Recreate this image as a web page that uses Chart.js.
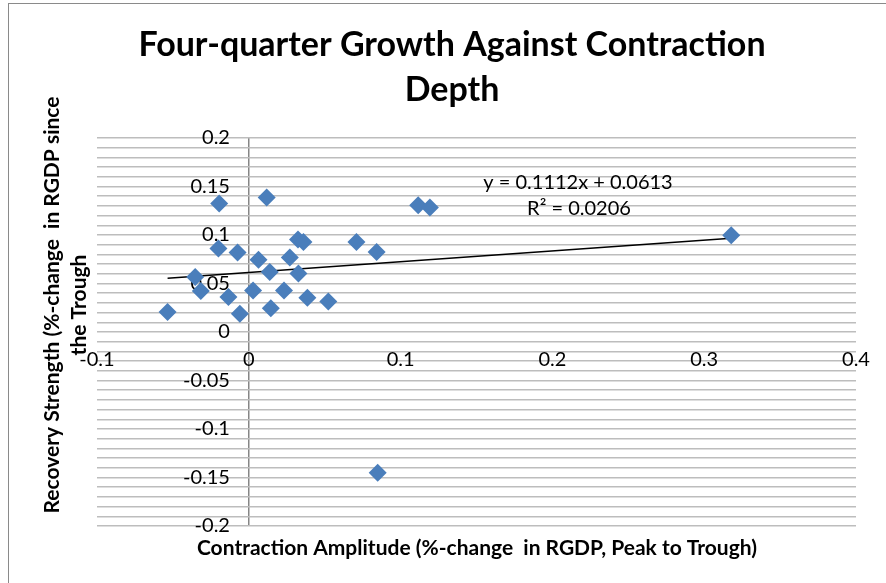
<!DOCTYPE html>
<html>
<head>
<meta charset="utf-8">
<script src="https://cdn.jsdelivr.net/npm/chart.js@4.4.1/dist/chart.umd.min.js"></script>
<style>
  html, body { margin: 0; padding: 0; background: #fff; overflow: hidden; }
  #frame { position: absolute; left: 8px; top: 3px; width: 900px; height: 600px; border: 1px solid #8a8a8a; }
  #chart { position: absolute; left: 0; top: 0; }
</style>
</head>
<body>
<div id="frame"></div>
<canvas id="chart" width="886" height="583"></canvas>
<script>
// data
const contractionAmplitude = [-0.0535, -0.0195, 0.0118, -0.0200, -0.0074, -0.0353, -0.0316, -0.0134, -0.0059, 0.0028, 0.0064, 0.0138, 0.0145, 0.0232, 0.0270, 0.0324, 0.0360, 0.0327, 0.0386, 0.0524, 0.0709, 0.0842, 0.1116, 0.1193, 0.3178, 0.0849];
const recoveryStrength = [0.0205, 0.1325, 0.1387, 0.0860, 0.0819, 0.0566, 0.0422, 0.0360, 0.0188, 0.0429, 0.0746, 0.0618, 0.0246, 0.0429, 0.0767, 0.0953, 0.0928, 0.0602, 0.0353, 0.0315, 0.0928, 0.0825, 0.1307, 0.1284, 0.0997, -0.1452];

// trendline as printed on the chart
const trendSlope = 0.1112;
const trendIntercept = 0.0613;
const trendR2 = 0.0206;

const xTicks = [-0.1, 0, 0.1, 0.2, 0.3, 0.4];
const yTicks = [-0.2, -0.15, -0.1, -0.05, 0, 0.05, 0.1, 0.15, 0.2];

const chartTitle = ['Four-quarter Growth Against Contraction', 'Depth'];
const xTitle = 'Contraction Amplitude (%-change  in RGDP, Peak to Trough)';
const yTitle = ['Recovery Strength (%-change  in RGDP since', 'the Trough'];

const points = contractionAmplitude.map((x, i) => ({ x: x, y: recoveryStrength[i] }));
const xMin = Math.min(...contractionAmplitude);
const xMax = Math.max(...contractionAmplitude);
const trendPoints = [xMin, xMax].map(x => ({ x: x, y: trendSlope * x + trendIntercept }));

const fontFamily = 'Lato, "Open Sans", sans-serif';
const gridGrey = '#bdbdbd';

const isTick = (v, list) => list.some(t => Math.abs(t - v) < 1e-9);
const fmt = v => String(Math.round(v * 100) / 100);

// titles, axis titles and trendline label
const textPlugin = {
    id: 'chartTexts',
    afterDraw(chart) {
        const ctx = chart.ctx;
        ctx.save();
        ctx.fillStyle = '#000';
        ctx.textAlign = 'center';
        ctx.textBaseline = 'middle';

        ctx.font = 'bold 34px ' + fontFamily;
        chartTitle.forEach((line, i) => ctx.fillText(line, 452, 45 + i * 45));

        ctx.font = 'bold 21px ' + fontFamily;
        ctx.fillText(xTitle, 477, 548);

        ctx.save();
        ctx.translate(52, 305);
        ctx.rotate(-Math.PI / 2);
        yTitle.forEach((line, i) => ctx.fillText(line, 0, i * 27));
        ctx.restore();

        ctx.font = '20px ' + fontFamily;
        ctx.fillText('y = ' + trendSlope + 'x + ' + trendIntercept, 578, 183);
        ctx.fillText('R\u00B2 = ' + trendR2, 579, 209);
        ctx.restore();
    }
};

new Chart(document.getElementById('chart'), {
    type: 'scatter',
    data: {
        datasets: [{
            label: 'Recovery',
            data: points,
            pointStyle: 'rectRot',
            pointRadius: 9,
            pointBorderWidth: 0,
            backgroundColor: '#4a7ebb',
            borderColor: '#4a7ebb'
        }, {
            label: 'Trend',
            data: trendPoints,
            showLine: true,
            pointRadius: 0,
            borderColor: '#000',
            borderWidth: 1.5,
            fill: false
        }]
    },
    options: {
        responsive: false,
        animation: false,
        layout: { padding: { left: 97, right: 30, top: 138, bottom: 57 } },
        plugins: {
            legend: { display: false },
            title: { display: false },
            tooltip: { enabled: false }
        },
        scales: {
            x: {
                type: 'linear',
                min: -0.1,
                max: 0.4,
                position: { y: 0 },
                afterFit: s => { s.height = 0; s.paddingLeft = 0; s.paddingRight = 0; },
                border: { display: false },
                grid: {
                    drawTicks: false,
                    color: c => (c.tick && Math.abs(c.tick.value) < 1e-9) ? '#868686' : 'rgba(0,0,0,0)',
                    lineWidth: 1.5
                },
                ticks: {
                    stepSize: 0.1,
                    padding: 16,
                    color: '#000',
                    font: { family: fontFamily, size: 20 },
                    maxRotation: 0,
                    autoSkip: false,
                    callback: v => isTick(v, xTicks) ? fmt(v) : ''
                }
            },
            y: {
                type: 'linear',
                min: -0.2,
                max: 0.2,
                position: 'left',
                afterFit: s => { s.width = 0; s.paddingTop = 0; s.paddingBottom = 0; },
                border: { display: false },
                grid: {
                    drawTicks: false,
                    color: gridGrey,
                    lineWidth: 1.5
                },
                ticks: {
                    stepSize: 0.01,
                    autoSkip: false,
                    mirror: true,
                    crossAlign: 'far',
                    padding: 86,
                    color: '#000',
                    font: { family: fontFamily, size: 20 },
                    callback: v => isTick(v, yTicks) ? fmt(v) : ''
                }
            }
        }
    },
    plugins: [textPlugin]
});
</script>
</body>
</html>
